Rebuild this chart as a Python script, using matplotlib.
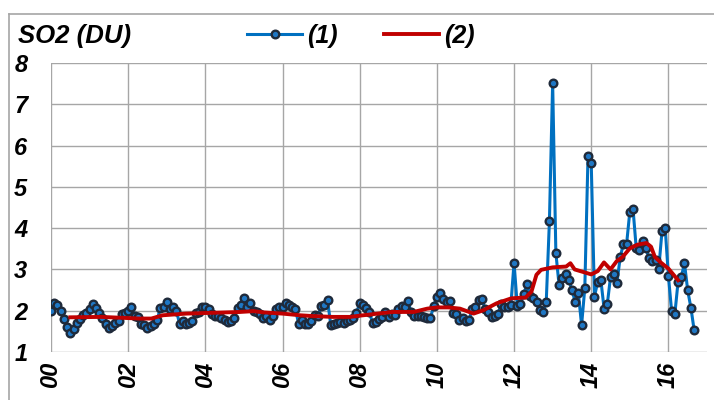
import matplotlib
matplotlib.use("Agg")
import matplotlib.pyplot as plt
from matplotlib.lines import Line2D
import numpy as np

plt.rcParams['font.family'] = ['Liberation Sans', 'DejaVu Sans']

# monthly SO2 values, series (1), Jan 2000 .. Sep 2016
so2_2000 = [2.0, 2.19, 2.14, 2.0, 1.8, 1.6, 1.46, 1.55, 1.7, 1.8, 1.9, 1.94]
so2_2001 = [2.04, 2.16, 2.06, 1.94, 1.82, 1.68, 1.58, 1.63, 1.7, 1.75, 1.92, 1.94]
so2_2002 = [2.0, 2.09, 1.87, 1.85, 1.68, 1.66, 1.58, 1.63, 1.68, 1.78, 2.06, 2.1]
so2_2003 = [2.2, 2.04, 2.08, 2.0, 1.68, 1.75, 1.68, 1.7, 1.75, 1.94, 1.98, 2.09]
so2_2004 = [2.1, 2.04, 1.92, 1.88, 1.88, 1.82, 1.78, 1.72, 1.76, 1.82, 2.06, 2.14]
so2_2005 = [2.3, 2.1, 2.18, 2.0, 1.98, 1.92, 1.82, 1.86, 1.78, 1.86, 2.04, 2.08]
so2_2006 = [2.1, 2.19, 2.15, 2.1, 2.05, 1.68, 1.78, 1.68, 1.68, 1.75, 1.9, 1.86]
so2_2007 = [2.12, 2.15, 2.25, 1.66, 1.68, 1.70, 1.72, 1.70, 1.74, 1.78, 1.82, 1.95]
so2_2008 = [2.18, 2.14, 2.06, 1.96, 1.71, 1.73, 1.80, 1.85, 1.98, 1.84, 1.93, 1.90]
so2_2009 = [2.05, 2.11, 2.10, 2.24, 1.96, 1.88, 1.86, 1.87, 1.85, 1.82, 1.82, 2.12]
so2_2010 = [2.34, 2.44, 2.28, 2.22, 2.24, 1.94, 1.92, 1.77, 1.82, 1.76, 1.77, 2.05]
so2_2011 = [2.10, 2.26, 2.28, 2.04, 1.96, 1.85, 1.88, 1.92, 2.16, 2.08, 2.10, 2.14]
so2_2012 = [3.16, 2.12, 2.16, 2.40, 2.64, 2.36, 2.32, 2.22, 2.02, 1.96, 2.20, 4.18]
so2_2013 = [7.52, 3.40, 2.62, 2.80, 2.88, 2.75, 2.50, 2.22, 2.42, 1.65, 2.55, 5.75]
so2_2014 = [5.57, 2.34, 2.70, 2.74, 2.05, 2.16, 2.82, 2.89, 2.68, 3.29, 3.62, 3.62]
so2_2015 = [4.40, 4.46, 3.51, 3.47, 3.70, 3.51, 3.27, 3.21, 3.23, 3.02, 3.92, 4.00]
so2_2016 = [2.84, 1.99, 1.92, 2.70, 2.82, 3.15, 2.49, 2.07, 1.53]

so2 = (so2_2000 + so2_2001 + so2_2002 + so2_2003 + so2_2004 + so2_2005 + so2_2006
       + so2_2007 + so2_2008 + so2_2009 + so2_2010 + so2_2011 + so2_2012 + so2_2013
       + so2_2014 + so2_2015 + so2_2016)
months = np.arange(len(so2)) / 12.0

# series (2)
smooth_t = [0.5, 1.3, 2.3, 2.6, 2.9, 3.5, 4.2, 4.9, 5.25, 5.5, 6.0, 6.45, 6.8, 7.3, 7.75,
            8.0, 8.85, 9.4, 9.75, 10.0, 10.3, 10.6, 10.95, 11.2, 11.55, 11.93, 12.3,
            12.45, 12.58, 12.7, 13.0, 13.35, 13.46, 13.57, 13.75, 14.0, 14.17, 14.33,
            14.5, 14.66, 14.82, 15.0, 15.2, 15.43, 15.55, 15.65, 15.8, 16.0, 16.25]
smooth_v = [1.84, 1.85, 1.81, 1.81, 1.89, 1.93, 1.95, 1.97, 1.99, 1.96, 1.93, 1.89, 1.87,
            1.85, 1.85, 1.88, 1.97, 1.97, 2.05, 2.08, 2.08, 2.05, 1.93, 2.01, 2.18, 2.30,
            2.32, 2.46, 2.87, 2.99, 3.05, 3.07, 3.15, 3.0, 2.95, 2.88, 2.96, 3.17, 3.0,
            3.2, 3.31, 3.51, 3.6, 3.64, 3.55, 3.3, 3.17, 3.02, 2.74]

year_ticks = [0, 2, 4, 6, 8, 10, 12, 14, 16]
year_labels = ['00', '02', '04', '06', '08', '10', '12', '14', '16']
y_ticks = [1, 2, 3, 4, 5, 6, 7, 8]

fig = plt.figure(figsize=(7.14, 4.0), dpi=100)
ax = fig.add_axes([51 / 714, 1 - 352 / 400, (707 - 51) / 714, (352 - 63) / 400])

ax.plot(months, so2, color='#0070C0', lw=2.2, marker='o', ms=5.5,
        mfc='#1f77c4', mec='#1f2a3a', mew=1.7, label='(1)', zorder=3)
ax.plot(smooth_t, smooth_v, color='#C00000', lw=2.8, label='(2)', zorder=4)

ax.set_xlim(0, 17)
ax.set_ylim(1, 8)
ax.set_xticks(year_ticks)
ax.set_xticklabels(year_labels, rotation=90, fontsize=17, fontweight='bold', fontstyle='italic')
ax.set_yticks(y_ticks)
ax.set_yticklabels([str(v) for v in y_ticks], fontsize=17, fontweight='bold', fontstyle='italic')
ax.tick_params(axis='both', length=0)
ax.tick_params(axis='y', pad=17)
ax.tick_params(axis='x', pad=7)
ax.grid(True, color='#a6a6a6', lw=1.0)
ax.set_axisbelow(True)
for s in ax.spines.values():
    s.set_visible(False)

fig.text(18 / 714, 1 - 36 / 400, 'SO2 (DU)', fontsize=18.5, fontweight='bold',
         fontstyle='italic', va='center', ha='left')

fig.legend(loc='center', bbox_to_anchor=(361 / 714, 1 - 36 / 400), ncol=2, frameon=False,
           handlelength=2.2, handletextpad=0.2, columnspacing=1.85,
           prop={'size': 18, 'weight': 'bold', 'style': 'italic'})

# outer chart frame
fig.add_artist(Line2D([9 / 714, 9 / 714], [0, 1 - 14 / 400], color='#a6a6a6', lw=1.2))
fig.add_artist(Line2D([9 / 714, 1], [1 - 14 / 400, 1 - 14 / 400], color='#a6a6a6', lw=1.2))

fig.savefig('out.png', dpi=100)
